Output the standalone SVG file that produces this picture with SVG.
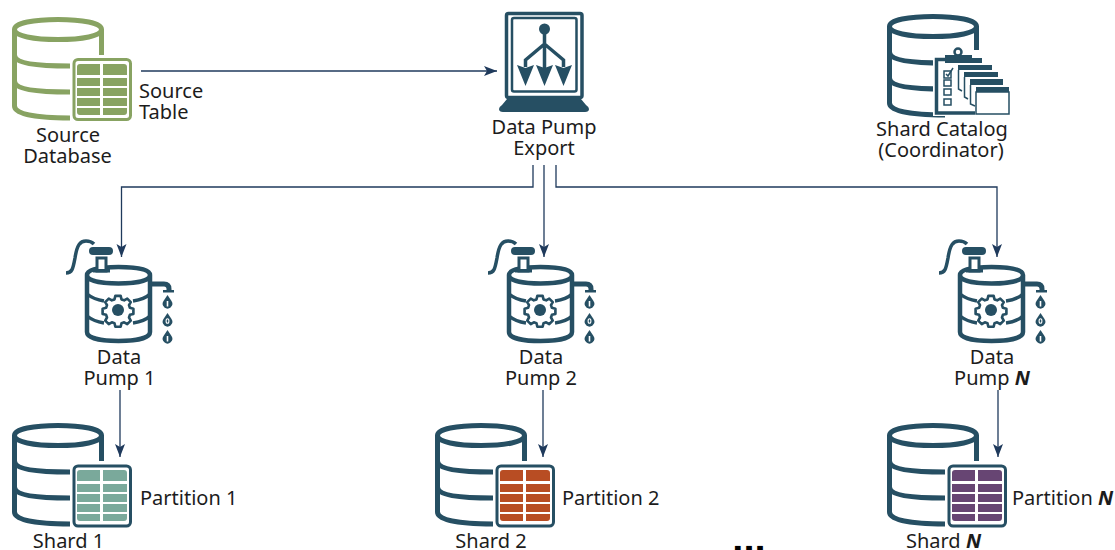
<svg xmlns="http://www.w3.org/2000/svg" xmlns:xlink="http://www.w3.org/1999/xlink" width="1115" height="550" viewBox="0 0 1115 550">
<style>
text{font-family:"Noto Sans","Open Sans","Liberation Sans",sans-serif;font-size:20px;fill:#1c1c1c}
.m{text-anchor:middle}
.b{font-weight:700;font-style:italic}
.c{fill:none;stroke:#1f3a5c;stroke-width:1.3}
.d{stroke:#264f63;fill:none;stroke-width:5}
.g{stroke:#88a362;fill:none;stroke-width:5}
.f{fill:#264f63}
.l{fill:none;stroke:#264f63;stroke-width:3}
</style>
<defs>
<marker id="a" markerUnits="userSpaceOnUse" markerWidth="14" markerHeight="12" refX="13" refY="6" orient="auto"><path d="M0 1L13 6L0 11L3 6Z" fill="#1f3a5c"/></marker>
<path id="cyl" d="M14.500 29.500C14.500 23 34 19.500 58 19.500C82 19.500 101.500 23 101.500 29.500C101.500 36 82 39.500 58 39.500C34 39.500 14.500 36 14.500 29.500ZM14.500 29.500V106C14.500 114 35 118 70 118M101.500 29.500V55M14.500 55C14.500 63 35 66 70 66M14.500 81C14.500 89 35 92 70 92"/>
<g id="grid">
<path d="M80 64h20v11h-23v-8a3 3 0 0 1 3-3zM103 64h21a3 3 0 0 1 3 3v8h-24zM77 78h23v8h-23zM103 78h24v8h-24zM77 88h23v8h-23zM103 88h24v8h-24zM77 98h23v8h-23zM103 98h24v8h-24zM77 108h23v7h-20a3 3 0 0 1-3-3zM103 108h24v4a3 3 0 0 1-3 3h-21z"/>
</g>
<g id="pump">
<path class="l" style="stroke-width:4.500" d="M87 275C87 269 101 267 118.500 267C136 267 150 269 150 275C150 281 136 283.500 118.500 283.500C101 283.500 87 281 87 275ZM87 275V332C87 338 101 341 118.500 341C136 341 150 338 150 332V275"/>
<path class="l" style="stroke-width:3.500" d="M87 294C92 298 98 300 104 301M133 301C140 300 146 298 150 294M87 316C92 320 98 322 104 323M133 323C140 322 146 320 150 316"/>
<path class="l" style="stroke-width:3.500" d="M66 273C72 273 73 269 75 258C77 245 80 241 86 241C90 241 92 242 94 244"/>
<rect class="f" x="89" y="247" width="24" height="8" rx="4"/>
<path d="M97 258h9v13h-9z" fill="#fff" stroke="#264f63" stroke-width="3"/>
<path class="f" d="M93 269h17v3.500h-17z"/>
<path class="l" style="stroke-width:5" d="M152 284H164Q169 284 169 289V291"/>
<path class="f" d="M163 290h11v2.500h-11z"/>
<g class="f"><path d="M167.500 295L171.500 301A4.800 4.800 0 1 1 163.500 301Z"/><path d="M167.500 313L171.500 319A4.800 4.800 0 1 1 163.500 319Z"/><path d="M167.500 330L171.500 336A4.800 4.800 0 1 1 163.500 336Z"/></g>
<path d="M167.500 301v5.500M167.500 336v5.500" stroke="#fff" stroke-width="1.600"/>
<ellipse cx="167.500" cy="321" rx="1.400" ry="2.300" fill="none" stroke="#fff" stroke-width="1.100"/>
<path fill="#fff" stroke="#264f63" stroke-width="3" stroke-linejoin="round" transform="translate(118 310) scale(.88) translate(-118 -310)" d="M115 294h6l1 4 3 1 3.500-2 4 4-2 3.500 1 3 4 1v6l-4 1-1 3 2 3.500-4 4-3.500-2-3 1-1 4h-6l-1-4-3-1-3.500 2-4-4 2-3.500-1-3-4-1v-6l4-1 1-3-2-3.500 4-4 3.500 2 3-1z"/>
<circle class="f" cx="118" cy="310" r="6"/>
</g>
</defs>

<g id="connectors" class="c">
<path class="c" d="M141 71H497" marker-end="url(#a)"/>
<path class="c" d="M533 165V187H121.500V257" marker-end="url(#a)"/>
<path class="c" d="M544 165V257" marker-end="url(#a)"/>
<path class="c" d="M556 165V187H997V257" marker-end="url(#a)"/>
<path class="c" d="M120 390V457" marker-end="url(#a)"/>
<path class="c" d="M543 390V457" marker-end="url(#a)"/>
<path class="c" d="M998 390V457" marker-end="url(#a)"/>
</g>

<g id="source-database">
<use xlink:href="#cyl" href="#cyl" class="g"/>
<rect x="74" y="59.500" width="56.500" height="60" rx="4" fill="#fff" stroke="#88a362" stroke-width="3"/>
<use xlink:href="#grid" href="#grid" fill="#88a362"/>
<text class="m" x="68" y="142">Source</text>
<text class="m" x="67.500" y="163">Database</text>
</g>
<text id="source-table" x="139" y="98">Source<tspan x="139" y="119">Table</tspan></text>

<g id="export">
<rect x="506.500" y="13.500" width="75.500" height="84" rx="2" fill="none" stroke="#264f63" stroke-width="3.500"/>
<rect x="512" y="18" width="64.500" height="73.500" rx="2" fill="none" stroke="#264f63" stroke-width="2.500"/>
<circle class="f" cx="544.500" cy="29" r="5.500"/>
<path class="l" style="stroke-width:3.500" d="M544.500 32V70M544.500 44L525.500 60V67M544.500 44L563.500 60V67"/>
<path class="f" d="M517 65L525.500 68L534 65L525.500 86ZM536 65L544.500 68L553 65L544.500 86ZM555 65L563.500 68L572 65L563.500 86Z"/>
<path class="f" d="M507 99H581L586 105Q589 107 589 109Q589 112 585 112H503Q499 112 499 109Q499 107 502 105Z"/>
<text class="m" x="544" y="134">Data Pump</text>
<text class="m" x="544" y="155">Export</text>
</g>

<g id="catalog">
<use xlink:href="#cyl" href="#cyl" class="d" transform="translate(875 -3)"/>
<path d="M933 50H985V116H933Z" fill="#fff"/>
<path d="M985 50H1011V116H985Z" fill="#fff"/>
<path class="l" style="stroke-width:3.500" d="M945 59.500H936.500V113H975"/>
<path class="f" d="M945 55H972V63H945ZM972 58h10v5h-10zM958 65h34v5h-34zM964 72h34v5h-34zM970 79h33v6h-33zM976 87h33v5h-33z"/>
<circle cx="958" cy="52" r="3.500" fill="none" stroke="#264f63" stroke-width="2.500"/>
<path fill="#fff" stroke="#264f63" stroke-width="1.500" d="M976 92H1009V114H976Z"/>
<path fill="none" stroke="#264f63" stroke-width="1.500" d="M958.500 70V89L962 91M964.500 77V97L968 99M970.500 85V104L975 106M944 71H951V78H944ZM944 80H951V86H944ZM944 89H951V95H944ZM944 99H951V105H944Z"/>
<path fill="none" stroke="#264f63" stroke-width="1.500" d="M946 74L948 76L953 68"/>
<text class="m" x="942" y="136">Shard Catalog</text>
<text class="m" x="941" y="157">(Coordinator)</text>
</g>

<g id="pump-1"><use xlink:href="#pump" href="#pump"/>
<text class="m" x="119" y="364">Data</text>
<text class="m" x="119.500" y="385">Pump 1</text></g>
<g id="pump-2"><use xlink:href="#pump" href="#pump" transform="translate(422 0)"/>
<text class="m" x="541" y="364">Data</text>
<text class="m" x="541" y="385">Pump 2</text></g>
<g id="pump-n"><use xlink:href="#pump" href="#pump" transform="translate(873 0)"/>
<text class="m" x="992" y="364">Data</text>
<text class="m" x="992" y="385">Pump <tspan class="b">N</tspan></text></g>

<g id="shard-1" transform="translate(0 406)">
<use xlink:href="#cyl" href="#cyl" class="d"/>
<rect x="74" y="60" width="56.500" height="60" rx="4" fill="#fff" stroke="#264f63" stroke-width="3"/>
<use xlink:href="#grid" href="#grid" fill="#7aa99b"/>
</g>
<text x="140" y="505">Partition 1</text>
<text class="m" x="68.500" y="548">Shard 1</text>

<g id="shard-2" transform="translate(423 406)">
<use xlink:href="#cyl" href="#cyl" class="d"/>
<rect x="74" y="60" width="56.500" height="60" rx="4" fill="#fff" stroke="#264f63" stroke-width="3"/>
<use xlink:href="#grid" href="#grid" fill="#b84d23"/>
</g>
<text x="562" y="505">Partition 2</text>
<text class="m" x="491" y="548">Shard 2</text>

<g id="shard-n" transform="translate(875 406)">
<use xlink:href="#cyl" href="#cyl" class="d"/>
<rect x="74" y="60" width="56.500" height="60" rx="4" fill="#fff" stroke="#264f63" stroke-width="3"/>
<use xlink:href="#grid" href="#grid" fill="#674573"/>
</g>
<text x="1012" y="505">Partition <tspan class="b">N</tspan></text>
<text class="m" x="943.500" y="548">Shard <tspan class="b">N</tspan></text>

<text id="ellipsis" class="m" x="749" y="552" style="font-family:'Liberation Sans',sans-serif;font-size:40px;font-weight:700;fill:#000">...</text>
</svg>
